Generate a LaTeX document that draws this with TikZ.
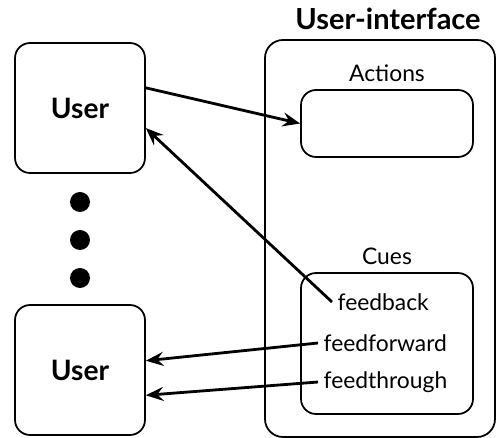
\documentclass[tikz,border=0pt]{standalone}
\usepackage{fontspec}
\setmainfont{Lato}
\usetikzlibrary{arrows.meta,positioning}
\tikzset{
  userbox/.style={draw, line width=1pt, rounded corners=0.3cm, minimum width=2.6cm, minimum height=2.6cm, font=\fontsize{16}{18}\selectfont\bfseries},
  panel/.style={draw, line width=1pt, rounded corners=0.3cm, minimum width=3.44cm},
  cue/.style={font=\fontsize{13}{15}\selectfont, inner sep=3pt},
  link/.style={line width=1.6pt, -{Stealth[length=10pt,width=8pt,inset=3.5pt]}},
}
\begin{document}
\begin{tikzpicture}[x=0.02cm,y=-0.02cm]
\useasboundingbox (0,0) rectangle (497,438);
% users
\node[userbox] (user1) at (80,108) {User};
\node[userbox] (user2) at (80,370) {User};
\fill (80,202) circle [radius=10];
\fill (80,240) circle [radius=10];
\fill (80,278) circle [radius=10];
% user-interface
\draw[line width=1pt, rounded corners=0.36cm] (265,40) rectangle (495,437);
\node[font=\fontsize{16.5}{18}\selectfont\bfseries] (uititle) at (388,19) {User-interface};
\node[panel, minimum height=1.34cm] (actions) at (387,123.5) {};
\node[cue, above=1pt of actions] (actlabel) {Actions};
\node[panel, minimum height=2.82cm] (cues) at (387,343.5) {};
\node[cue, above=1pt of cues] (cuelabel) {Cues};
\node[cue, anchor=west] (fb) at (332,302) {feedback};
\node[cue, anchor=west] (ff) at (318,343) {feedforward};
\node[cue, anchor=west] (ft) at (318,382) {feedthrough};
% connectors
\draw[link] (user1.17) -- (actions.west);
\draw[link] (fb.west) -- (user1.-17);
\draw[link] (ff.west) -- (user2.8);
\draw[link] (ft.west) -- (user2.-21);
\end{tikzpicture}
\end{document}
